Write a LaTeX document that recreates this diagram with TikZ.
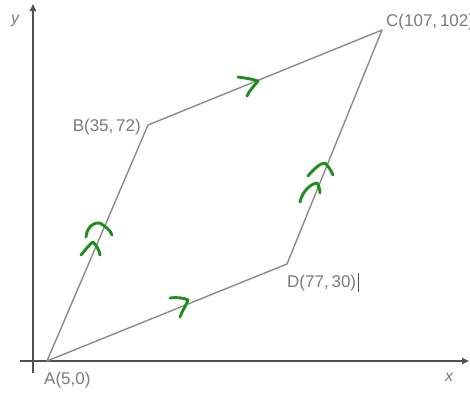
\documentclass[tikz,border=0pt]{standalone}
\usepackage{fontspec}
\setmainfont{Liberation Sans}
\usetikzlibrary{arrows.meta}
\definecolor{axisgray}{HTML}{505050}
\definecolor{edgegray}{HTML}{8A8A8A}
\definecolor{labelgray}{HTML}{7A7A7A}
\definecolor{markgreen}{HTML}{1E8C1E}
\tikzset{
  axisline/.style={draw=axisgray, line width=1.6pt, -{Triangle[length=7pt,width=6pt]}},
  edge/.style={draw=edgegray, line width=1.4pt, line join=round},
  ptlabel/.style={text=labelgray, font=\fontsize{17}{19}\selectfont, inner sep=0pt},
  axislabel/.style={text=labelgray, font=\fontsize{16}{18}\selectfont\itshape, inner sep=0pt},
  chevron/.style={draw=markgreen, line width=2.9pt, line cap=round, line join=round},
}
\begin{document}
\begin{tikzpicture}[x=1pt,y=-1pt]
\useasboundingbox (0,0) rectangle (470,394);
% axes
\coordinate (ybot) at (33,373);
\coordinate (ytop) at (33,4);
\coordinate (xleft) at (20,361);
\coordinate (xright) at (469,361);
\draw[axisline] (ybot) -- (ytop);
\draw[axisline] (xleft) -- (xright);
\node[axislabel] (ylab) at (15,21) {y};
\node[axislabel] (xlab) at (449,377) {x};
% vertices
\coordinate (A) at (47,361);
\coordinate (B) at (148,125);
\coordinate (C) at (382,30);
\coordinate (D) at (287,264);
\draw[edge] (A) -- (B) -- (C) -- (D) -- cycle;
% labels
\node[ptlabel, anchor=west] (Alab) at (44,380) {A(5,0)};
\node[ptlabel, anchor=east] (Blab) at (141,127) {B(35,\,72)};
\node[ptlabel, anchor=west] (Clab) at (386,22) {C(107,\,102)};
\node[ptlabel, anchor=west] (Dlab) at (287,283) {D(77,\,30)};
\coordinate (cur1) at (358,273);
\coordinate (cur2) at (358,292);
\draw[draw=axisgray, line width=0.9pt] (cur1) -- (cur2);
% green chevrons on AB
\draw[chevron] (86,237) .. controls (87,226) and (95,222) .. (100,223) .. controls (104,226) and (110,229) .. (112,235);
\draw[chevron] (81,255) .. controls (86,249) and (90,244) .. (93,242) .. controls (97,246) and (99,250) .. (100,255);
% on AD
\draw[chevron] (170,298) .. controls (178,297) and (184,298) .. (188,300) .. controls (186,306) and (182,311) .. (180,317);
% on BC
\draw[chevron] (238,77) .. controls (245,78) and (252,79) .. (258,81) .. controls (254,86) and (249,91) .. (247,96);
% on DC
\draw[chevron] (308,176) .. controls (313,170) and (320,163) .. (325,163) .. controls (328,166) and (331,170) .. (333,175);
\draw[chevron] (300,202) .. controls (302,192) and (310,184) .. (317,183) .. controls (319,186) and (320,190) .. (320,193);
\end{tikzpicture}
\end{document}
